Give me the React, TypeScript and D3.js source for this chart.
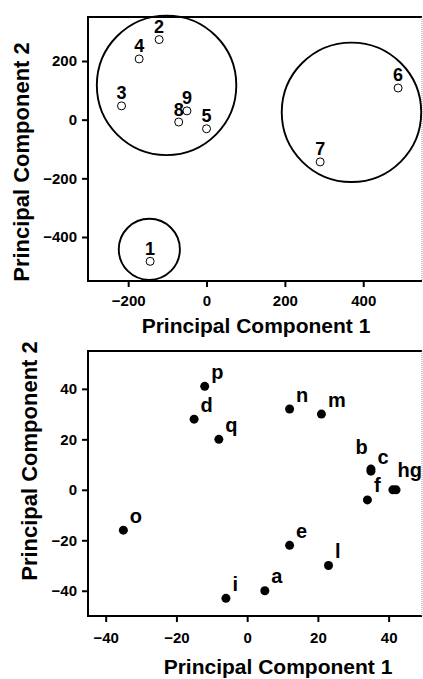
import React, { useEffect, useRef } from 'react';
import * as d3 from 'd3';

// Top panel: samples (open circles) and the three cluster rings
const sampleIds = ['1', '2', '3', '4', '5', '6', '7', '8', '9'];
const samplePC1 = [-144, -121, -217, -172, 0, 489, 290, -71, -50];
const samplePC2 = [-483, 273, 47, 207, -31, 108, -144, -8, 30];

const clusterPC1 = [-102, 370, -146];
const clusterPC2 = [117, 25, -442];
const clusterRadius = [178, 178, 78]; // in PC1 units

const topXTicks = [-200, 0, 200, 400];
const topYTicks = [-400, -200, 0, 200];

// Bottom panel: variables (filled dots)
const varIds = ['a', 'b', 'c', 'd', 'e', 'f', 'g', 'h', 'i', 'l', 'm', 'n', 'o', 'p', 'q'];
const varPC1 = [5, 35, 35, -15, 12, 34, 42.1, 41.2, -6, 23, 21, 12, -35, -12, -8];
const varPC2 = [-40, 8.2, 7.4, 28, -22, -4, 0, 0, -43, -30, 30, 32, -16, 41, 20];

const botXTicks = [-40, -20, 0, 20, 40];
const botYTicks = [-40, -20, 0, 20, 40];

const axisTitleX = 'Principal Component 1';
const axisTitleY = 'Principal Component 2';

const W = 423;
const H = 679;
const FONT = '"Liberation Sans", Arial, Helvetica, sans-serif';

// label nudges for crowded points (px)
const labelNudge: Record<string, [number, number]> = {
  b: [-15.5, -15],
  h: [4.5, -13],
  g: [13.6, -13],
};

const App = () => {
  const svgRef = useRef<SVGSVGElement>(null);

  useEffect(() => {
    if (!svgRef.current) return;
    const svg = d3.select(svgRef.current);
    svg.selectAll('*').remove();

    const drawFrame = (left: number, top: number, right: number, bottom: number) => {
      svg.append('path')
        .attr('d', `M${right},${top}H${left}V${bottom}H${right}`)
        .attr('fill', 'none')
        .attr('stroke', '#000')
        .attr('stroke-width', 2);
      svg.append('line')
        .attr('x1', right).attr('x2', right)
        .attr('y1', top).attr('y2', bottom)
        .attr('stroke', '#999')
        .attr('stroke-width', 1)
        .attr('stroke-dasharray', '1,1');
    };

    const drawAxes = (
      x: d3.ScaleLinear<number, number>,
      y: d3.ScaleLinear<number, number>,
      xTicks: number[],
      yTicks: number[],
      left: number,
      bottom: number,
      padX: number
    ) => {
      const gx = svg.append('g')
        .attr('transform', `translate(0,${bottom})`)
        .call(d3.axisBottom(x).tickValues(xTicks).tickSize(6).tickPadding(padX).tickSizeOuter(0));
      const gy = svg.append('g')
        .attr('transform', `translate(${left},0)`)
        .call(d3.axisLeft(y).tickValues(yTicks).tickSize(6).tickPadding(5).tickSizeOuter(0));
      [gx, gy].forEach(g => {
        g.select('.domain').remove();
        g.selectAll('line').attr('stroke', '#000').attr('stroke-width', 2);
        g.selectAll('text')
          .attr('fill', '#000')
          .style('font-family', FONT)
          .style('font-size', '15px')
          .style('font-weight', 'bold');
      });
    };

    const title = (text: string, x: number, y: number, rotate: boolean) => {
      svg.append('text')
        .attr('transform', rotate ? `translate(${x},${y}) rotate(-90)` : `translate(${x},${y})`)
        .attr('text-anchor', 'middle')
        .style('font-family', FONT)
        .style('font-size', rotate ? '22px' : '21px')
        .style('font-weight', 'bold')
        .text(text);
    };

    // ---------- top panel ----------
    const x1 = d3.scaleLinear().domain([-300, 550]).range([89, 422]);
    const y1 = d3.scaleLinear().domain([-550, 350]).range([281, 17]);

    drawFrame(88, 17, 422, 281);
    drawAxes(x1, y1, topXTicks, topYTicks, 88, 281, 8);

    svg.append('g')
      .selectAll('circle')
      .data(clusterPC1.map((v, i) => ({ x: v, y: clusterPC2[i], r: clusterRadius[i] })))
      .enter().append('circle')
      .attr('cx', d => x1(d.x))
      .attr('cy', d => y1(d.y))
      .attr('r', d => x1(d.x + d.r) - x1(d.x))
      .attr('fill', 'none')
      .attr('stroke', '#000')
      .attr('stroke-width', 1.9);

    const samples = sampleIds.map((id, i) => ({ id, x: samplePC1[i], y: samplePC2[i] }));

    svg.append('g')
      .selectAll('circle')
      .data(samples)
      .enter().append('circle')
      .attr('cx', d => x1(d.x))
      .attr('cy', d => y1(d.y))
      .attr('r', 4)
      .attr('fill', '#fff')
      .attr('stroke', '#000')
      .attr('stroke-width', 1);

    svg.append('g')
      .selectAll('text')
      .data(samples)
      .enter().append('text')
      .attr('x', d => x1(d.x))
      .attr('y', d => y1(d.y) - 6.5)
      .attr('text-anchor', 'middle')
      .style('font-family', FONT)
      .style('font-size', '18px')
      .style('font-weight', 'bold')
      .text(d => d.id);

    title(axisTitleX, 256, 333, false);
    title(axisTitleY, 29, 162, true);

    // ---------- bottom panel ----------
    const x2 = d3.scaleLinear().domain([-45, 50]).range([88, 424]);
    const y2 = d3.scaleLinear().domain([-50, 55]).range([616, 351]);

    drawFrame(88, 351, 422, 616);
    drawAxes(x2, y2, botXTicks, botYTicks, 88, 616, 10);

    const vars = varIds.map((id, i) => ({ id, x: varPC1[i], y: varPC2[i] }));

    svg.append('g')
      .selectAll('circle')
      .data(vars)
      .enter().append('circle')
      .attr('cx', d => x2(d.x))
      .attr('cy', d => y2(d.y))
      .attr('r', 4.5)
      .attr('fill', '#000');

    svg.append('g')
      .selectAll('text')
      .data(vars)
      .enter().append('text')
      .attr('x', d => x2(d.x) + (labelNudge[d.id] ? labelNudge[d.id][0] : 6.5))
      .attr('y', d => y2(d.y) + (labelNudge[d.id] ? labelNudge[d.id][1] : -7.5))
      .style('font-family', FONT)
      .style('font-size', '20px')
      .style('font-weight', 'bold')
      .text(d => d.id);

    title(axisTitleX, 278, 674, false);
    title(axisTitleY, 37, 461, true);
  }, []);

  return (
    <svg
      ref={svgRef}
      width={W}
      height={H}
      style={{ position: 'absolute', left: 0, top: 0, background: '#fff' }}
    />
  );
};

export default App;
